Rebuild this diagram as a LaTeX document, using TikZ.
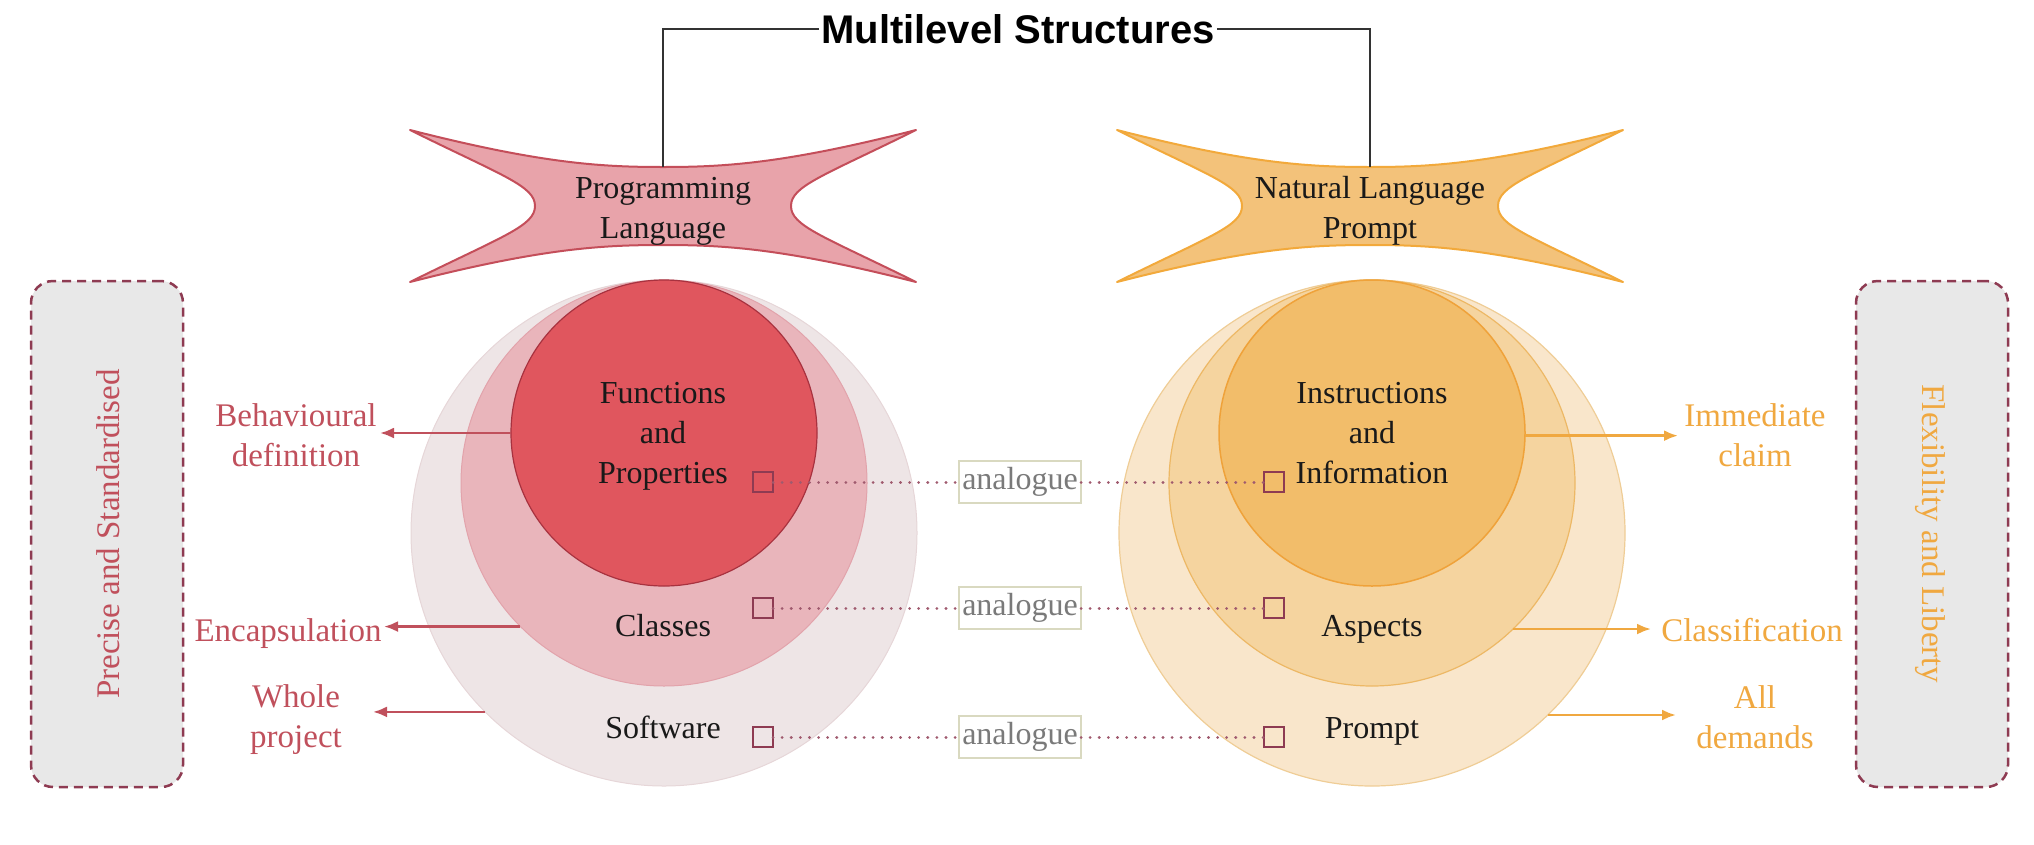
\documentclass[tikz,border=0pt]{standalone}
\usepackage{fontspec}
\setmainfont{Liberation Serif}
\newfontfamily\titlefont{Liberation Sans}
\usetikzlibrary{arrows.meta}
\definecolor{redtxt}{HTML}{C0505C}
\definecolor{orgtxt}{HTML}{F0A840}
\definecolor{maroon}{HTML}{8E3B52}
\definecolor{dotcol}{HTML}{A05A6E}
\definecolor{starRfill}{HTML}{E8A3AA}
\definecolor{starRdraw}{HTML}{C44E5A}
\definecolor{starOfill}{HTML}{F3C27A}
\definecolor{starOdraw}{HTML}{F2A93B}
\definecolor{cRa}{HTML}{EEE5E6}
\definecolor{cRb}{HTML}{E9B5BB}
\definecolor{cRc}{HTML}{E0565E}
\definecolor{cRaD}{HTML}{E6D6D8}
\definecolor{cRbD}{HTML}{E2A3AB}
\definecolor{cRcD}{HTML}{A8323F}
\definecolor{cOa}{HTML}{F9E6CB}
\definecolor{cOb}{HTML}{F5D49F}
\definecolor{cOc}{HTML}{F2BD6A}
\definecolor{cOaD}{HTML}{EFCD96}
\definecolor{cObD}{HTML}{EDB865}
\definecolor{cOcD}{HTML}{EFA23A}
\definecolor{boxgray}{HTML}{E8E8E8}
\definecolor{anbox}{HTML}{D9D9C0}
\definecolor{antext}{HTML}{7A7A7A}
\definecolor{linecol}{HTML}{333333}
\begin{document}
\begin{tikzpicture}[x=1pt,y=-1pt,
  ring/.style={circle, inner sep=0pt, outer sep=0pt, minimum size=#1},
  lab/.style={font=\fontsize{32}{40}\selectfont, align=center, text=black!90, inner sep=0pt},
  side/.style={font=\fontsize{33}{40}\selectfont, align=center, inner sep=0pt},
  sq/.style={draw=maroon, line width=2.5pt, minimum size=20pt, inner sep=0pt, outer sep=0pt},
  an/.style={draw=anbox, fill=white, line width=2pt, minimum width=122pt, minimum height=42pt, inner sep=0pt, outer sep=0pt, text=antext, font=\fontsize{32}{40}\selectfont},
  dotl/.style={draw=dotcol, line width=3pt, dash pattern=on 0.1pt off 9pt, line cap=round},
  arrR/.style={draw=redtxt, line width=2.5pt, -{Latex[length=14pt,width=11pt]}},
  arrO/.style={draw=orgtxt, line width=2.5pt, -{Latex[length=14pt,width=11pt]}},
  sidebox/.style={draw=maroon, fill=boxgray, line width=2.5pt, dash pattern=on 9pt off 6pt, rounded corners=22pt, minimum width=152pt, minimum height=506pt, inner sep=0pt},
  conn/.style={draw=linecol, line width=2.5pt},
  starshape/.style={line width=2pt, line join=round}
]
\useasboundingbox (0,0) rectangle (2034,844);

% title
\node[font=\titlefont\bfseries\fontsize{40}{48}\selectfont, inner xsep=2pt, inner ysep=0pt] (title) at (1018,29) {Multilevel Structures};

% stars
\begin{scope}[shift={(663,206)}]
\path[starshape, fill=starRfill, draw=starRdraw]
 (-253,-76) .. controls (-120,-42) and (-60,-39) .. (0,-39) .. controls (60,-39) and (120,-42) .. (253,-76)
 .. controls (160,-30) and (128,-20) .. (128,0) .. controls (128,20) and (160,30) .. (253,76)
 .. controls (120,42) and (60,39) .. (0,39) .. controls (-60,39) and (-120,42) .. (-253,76)
 .. controls (-160,30) and (-128,20) .. (-128,0) .. controls (-128,-20) and (-160,-30) .. cycle;
\coordinate (stLtop) at (0,-39);
\end{scope}
\begin{scope}[shift={(1370,206)}]
\path[starshape, fill=starOfill, draw=starOdraw]
 (-253,-76) .. controls (-120,-42) and (-60,-39) .. (0,-39) .. controls (60,-39) and (120,-42) .. (253,-76)
 .. controls (160,-30) and (128,-20) .. (128,0) .. controls (128,20) and (160,30) .. (253,76)
 .. controls (120,42) and (60,39) .. (0,39) .. controls (-60,39) and (-120,42) .. (-253,76)
 .. controls (-160,30) and (-128,20) .. (-128,0) .. controls (-128,-20) and (-160,-30) .. cycle;
\coordinate (stRtop) at (0,-39);
\end{scope}
\node[lab] (pl) at (663,211) {Programming\\Language};
\node[lab] (nl) at (1370,211) {Natural Language\\Prompt};

\draw[conn] (title.west) -| (stLtop);
\draw[conn] (title.east) -| (stRtop);

% side boxes
\node[sidebox] (lbox) at (107,534) {};
\node[side, rotate=90, text=redtxt] (lboxt) at (108,534) {Precise and Standardised};
\node[sidebox] (rbox) at (1932,534) {};
\node[side, rotate=-90, text=orgtxt] (rboxt) at (1930,534) {Flexibility and Liberty};

% left circles
\node[ring=506pt, fill=cRa, draw=cRaD, line width=1pt] (outL) at (664,533) {};
\node[ring=406pt, fill=cRb, draw=cRbD, line width=1pt] (midL) at (664,483) {};
\node[ring=306pt, fill=cRc, draw=cRcD, line width=1.2pt] (inL) at (664,433) {};
% right circles
\node[ring=506pt, fill=cOa, draw=cOaD, line width=1.2pt] (outR) at (1372,533) {};
\node[ring=406pt, fill=cOb, draw=cObD, line width=1.2pt] (midR) at (1372,483) {};
\node[ring=306pt, fill=cOc, draw=cOcD, line width=1.5pt] (inR) at (1372,433) {};

% circle labels
\node[lab] (fp) at (663,436) {Functions\\and\\Properties};
\node[lab, anchor=base] (cls) at (663,636) {Classes};
\node[lab, anchor=base] (sw) at (663,738) {Software};
\node[lab] (ii) at (1372,433) {Instructions\\and\\Information};
\node[lab, anchor=base] (asp) at (1372,636) {Aspects};
\node[lab, anchor=base] (pr) at (1372,738) {Prompt};

% side labels
\node[side, text=redtxt] (beh) at (296,435) {Behavioural\\definition};
\node[side, text=redtxt, anchor=base] (enc) at (288,641) {Encapsulation};
\node[side, text=redtxt] (whole) at (296,720) {Whole\\project};
\node[side, text=orgtxt] (imm) at (1755,435) {Immediate\\claim};
\node[side, text=orgtxt, anchor=base] (cla) at (1752,641) {Classification};
\node[side, text=orgtxt] (all) at (1755,717) {All\\demands};

\coordinate (tB) at (380,435);
\coordinate (tE) at (384,627);
\coordinate (tW) at (373,713);
\coordinate (tI) at (1678,435);
\coordinate (tC) at (1651,627);
\coordinate (tA) at (1676,713);
\draw[arrR] (inL.180.75) -- (inL.180.75 -| tB);
\draw[arrR] (midL.225.2) -- (midL.225.2 -| tE);
\draw[arrR] (outL.225.4) -- (outL.225.4 -| tW);
\draw[arrO] (inR.359.25) -- (inR.359.25 -| tI);
\draw[arrO] (midR.314.8) -- (midR.314.8 -| tC);
\draw[arrO] (outR.314.6) -- (outR.314.6 -| tA);

% squares and analogue links
\foreach \i/\yy in {1/482,2/608,3/737}{
  \node[sq] (sqL\i) at (763,\yy) {};
  \node[sq] (sqR\i) at (1274,\yy) {};
  \node[an] (an\i) at (1020,\yy) {analogue};
  \draw[dotl] (sqL\i) -- (an\i);
  \draw[dotl] (an\i) -- (sqR\i);
}
\end{tikzpicture}
\end{document}
